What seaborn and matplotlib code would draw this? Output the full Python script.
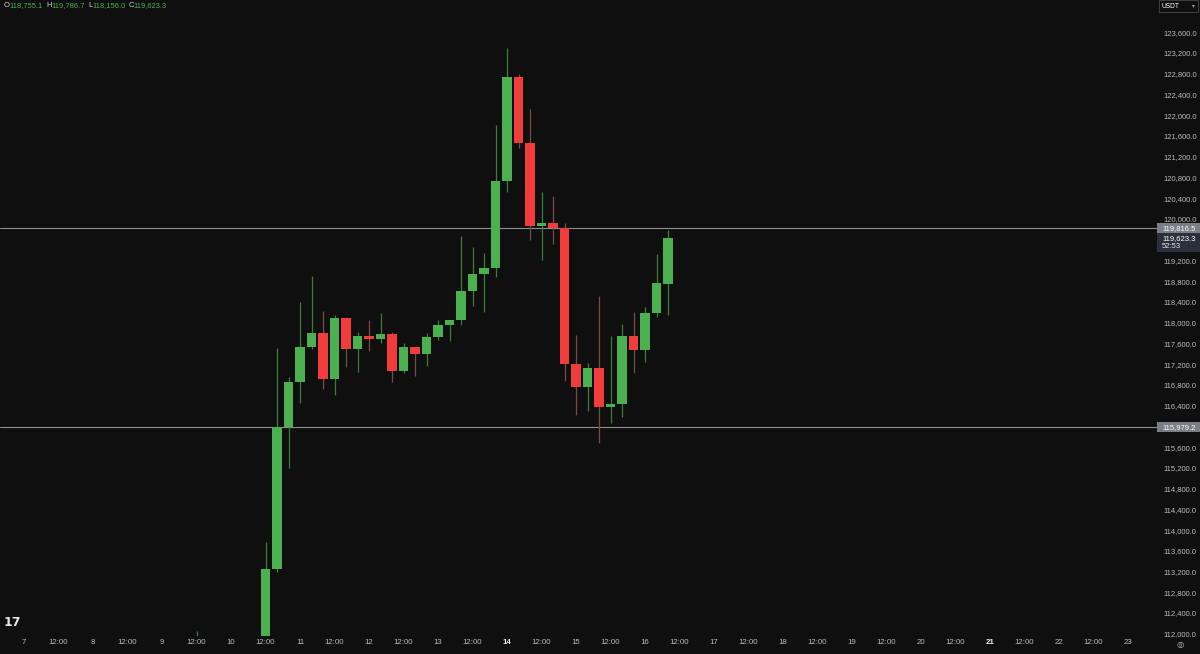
import numpy as np
import pandas as pd
import matplotlib
matplotlib.use('Agg')
import matplotlib.pyplot as plt
import matplotlib.transforms as mtransforms
from matplotlib.patches import Rectangle
import seaborn as sns

# ── DATA (4h candles, BTC/USDT) ─────────────────────────────────────────────
START = '2025-07-09 12:00'
opens = [111300, 111600, 111450, 111350, 111150, 111400,
         111650, 113250, 115990, 116860, 117530, 117800, 116910, 118090, 117490, 117740,
         117680, 117780, 117070, 117530, 117400, 117720, 117950, 118050, 118610, 118940,
         119050, 120730, 122730, 121460, 119860, 119920, 119820, 117200, 116760, 117130,
         116370, 116440, 117740, 117470, 118190, 118755.1]
highs = [112050, 111900, 111800, 111700, 111600, 111850,
         113770, 117510, 116950, 118400, 118900, 118220, 118150, 118110, 117820, 118050,
         118190, 117820, 117610, 117540, 117800, 118050, 118060, 119670, 119460, 119340,
         121810, 123290, 122790, 122120, 120520, 120440, 119920, 117760, 117220, 118510,
         117740, 117970, 118200, 118300, 119320, 119786.7]
lows = [111050, 111200, 111100, 110900, 110800, 111150,
        111500, 113200, 115200, 116450, 117500, 116720, 116600, 117150, 117050, 117450,
        117600, 116850, 117030, 116970, 117160, 117660, 117650, 117950, 118320, 118200,
        118880, 120520, 121370, 119590, 119210, 119520, 116880, 116220, 116300, 115680,
        116070, 116180, 117030, 117240, 118110, 118156.0]
closes = [111600, 111450, 111350, 111150, 111400, 111650,
          113250, 115990, 116860, 117530, 117800, 116910, 118090, 117490, 117740, 117680,
          117780, 117070, 117530, 117400, 117720, 117950, 118050, 118610, 118940, 119050,
          120730, 122730, 121460, 119860, 119920, 119820, 117200, 116760, 117130, 116370,
          116440, 117740, 117470, 118190, 118760, 119623.3]

level_prices = [119816.5, 115979.2]
last_price = 119623.3
countdown = '52:53'
header_parts = [('O', '118,755.1'), ('H', '119,786.7'), ('L', '118,156.0'), ('C', '119,623.3')]
y_ticks = list(range(112000, 123601, 400))
first_day = 7
last_day = 23
bold_days = [14, 21]

# ── STYLE ───────────────────────────────────────────────────────────────────
BG = '#0f0f0f'
UP = '#4caf50'
DOWN = '#f23b3b'
UP_WICK = '#3b7d3e'
DOWN_WICK = '#7a4a4a'
TXT = '#bcbcbc'
W, H = 1200, 654
AX_RIGHT, AX_BOTTOM = 1157, 636
X0_PX, PX_PER_H = 24, 69 / 24

sns.set_theme(style='dark', rc={'axes.facecolor': BG, 'figure.facecolor': BG})
plt.rcParams['font.family'] = ['Liberation Sans', 'DejaVu Sans']

df = pd.DataFrame({'time': pd.date_range(START, periods=len(opens), freq='4h'),
                   'open': opens, 'high': highs, 'low': lows, 'close': closes})
df['x'] = (df['time'] - pd.Timestamp('2025-07-07')) / pd.Timedelta(hours=1)
up = df['close'] >= df['open']
df['color'] = np.where(up, UP, DOWN)
df['wick'] = np.where(up, UP_WICK, DOWN_WICK)

fig = plt.figure(figsize=(W / 100, H / 100), dpi=100)
ax = fig.add_axes([0, (H - AX_BOTTOM) / H, AX_RIGHT / W, AX_BOTTOM / H])
ax.set_facecolor(BG)

# wicks + bodies
ax.vlines(df['x'], df['low'], df['high'], colors=df['wick'], linewidth=0.9, zorder=2)
ax.bar(df['x'], (df['close'] - df['open']).abs().clip(lower=15),
       bottom=df[['open', 'close']].min(axis=1), width=3.15,
       color=df['color'], linewidth=0, zorder=3)

for p in level_prices:
    ax.axhline(p, color='#8f8f8f', linewidth=0.8, zorder=1)

ax.set_xlim(-X0_PX / PX_PER_H, (AX_RIGHT - X0_PX) / PX_PER_H)
ax.set_ylim(111957, 124223)
upp = (124223 - 111957) / AX_BOTTOM  # price units per pixel

# x axis
xt = np.arange(0, (last_day - first_day) * 24 + 1, 12)
xl = [str(first_day + int(h // 24)) if h % 24 == 0 else '12:00' for h in xt]
ax.set_xticks(xt)
ax.set_xticklabels(xl)
ax.tick_params(axis='x', length=0, pad=2.5, labelsize=5.7, colors=TXT)
for lab in ax.get_xticklabels():
    if lab.get_text() in [str(d) for d in bold_days]:
        lab.set_fontweight('bold')
        lab.set_color('#f0f0f0')

# y axis on the right
ax.yaxis.tick_right()
ax.set_yticks(y_ticks)
ax.set_yticklabels([f'{v:,.1f}' for v in y_ticks])
ax.tick_params(axis='y', length=0, pad=4.3, labelsize=5.5, colors=TXT)
ax.grid(False)
sns.despine(ax=ax, left=True, bottom=True, right=True, top=True)

# price label boxes on the scale
tr = mtransforms.blended_transform_factory(fig.transFigure, ax.transData)
bx, bw = AX_RIGHT / W, (W - AX_RIGHT) / W
tx = 1162 / W
hi_lvl, lo_lvl = level_prices
fig.patches.append(Rectangle((bx, hi_lvl - 5 * upp), bw, 10 * upp, transform=tr,
                             facecolor='#7b7e87', edgecolor='none', zorder=5))
fig.text(tx, hi_lvl, f'{hi_lvl:,.1f}', transform=tr, color='white', fontsize=5.5,
         va='center', ha='left', zorder=6)
fig.patches.append(Rectangle((bx, hi_lvl - 24 * upp), bw, 19 * upp, transform=tr,
                             facecolor='#2a2f3b', edgecolor='none', zorder=5))
fig.text(tx, last_price, f'{last_price:,.1f}', transform=tr, color='white', fontsize=5.5,
         va='center', ha='left', zorder=6)
fig.text(tx, last_price - 8.5 * upp, countdown, transform=tr, color='#e6e6e6', fontsize=5.5,
         va='center', ha='left', zorder=6)
fig.patches.append(Rectangle((bx, lo_lvl - 5 * upp), bw, 10 * upp, transform=tr,
                             facecolor='#7b7e87', edgecolor='none', zorder=5))
fig.text(tx, lo_lvl, f'{lo_lvl:,.1f}', transform=tr, color='white', fontsize=5.5,
         va='center', ha='left', zorder=6)

# header OHLC line
renderer = fig.canvas.get_renderer()
xpos = 4
for key, val in header_parts:
    for s, col in ((key, '#d8d8d8'), (val, UP)):
        t = fig.text(xpos / W, 1 - 7 / H, s, color=col, fontsize=5.4, va='baseline', ha='left')
        xpos += t.get_window_extent(renderer).width
    xpos += 3

# currency selector top-right
fig.patches.append(Rectangle((1159 / W, 1 - 12 / H), 39 / W, 12 / H, transform=fig.transFigure,
                             facecolor=BG, edgecolor='#3c3c3c', linewidth=0.8, zorder=5))
fig.text(1162 / W, 1 - 6 / H, 'USDT', color='white', fontsize=4.8, va='center', ha='left', zorder=6)
fig.text(1193 / W, 1 - 6 / H, '▾', color='#aaaaaa', fontsize=4, va='center', ha='center', zorder=6)

# logo and settings icon
fig.text(4 / W, 1 - 623 / H, '17', color='#e6e6e6', fontsize=9, fontweight='bold',
         family='DejaVu Sans', va='center', ha='left')
fig.text(1180 / W, 1 - 645 / H, '◎', color=TXT, fontsize=6, family='DejaVu Sans',
         va='center', ha='center')

fig.savefig('out.png', dpi=100, facecolor=BG)
